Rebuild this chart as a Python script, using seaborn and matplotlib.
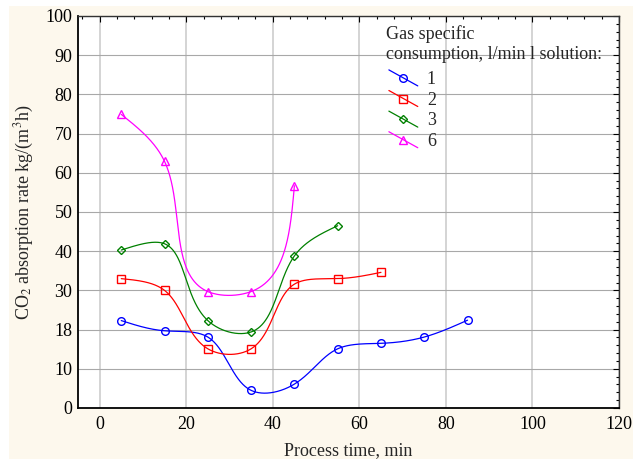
import numpy as np
import pandas as pd
import matplotlib
matplotlib.use('Agg')
import matplotlib.pyplot as plt
import seaborn as sns
from matplotlib.lines import Line2D
from matplotlib.patches import Rectangle
from matplotlib.legend_handler import HandlerLine2D
from matplotlib.ticker import FixedLocator, FixedFormatter, AutoMinorLocator

# values
time_1 = [5, 15, 25, 35, 45, 55, 65, 75, 85]
rate_1 = [22.3, 19.7, 18.1, 4.5, 6.1, 15.1, 16.5, 18.1, 22.4]
time_2 = [5, 15, 25, 35, 45, 55, 65]
rate_2 = [33.0, 30.0, 15.1, 15.1, 31.6, 33.0, 34.6]
time_3 = [5, 15, 25, 35, 45, 55]
rate_3 = [40.3, 41.9, 22.3, 19.4, 38.8, 46.5]
time_6 = [5, 15, 25, 35, 45]
rate_6 = [74.9, 62.9, 29.7, 29.7, 56.7]

series_labels = ['1', '2', '3', '6']
series_colors = ['#0000ff', '#ff0000', '#008000', '#ff00ff']
series_markers = ['o', 's', 'D', '^']
marker_sizes = [5.5, 6, 4, 6]

y_ticks = [0, 10, 20, 30, 40, 50, 60, 70, 80, 90, 100]
y_tick_labels = ['0', '10', '18', '30', '40', '50', '60', '70', '80', '90', '100']
x_ticks = [0, 20, 40, 60, 80, 100, 120]

sns.set_theme(style='white')
plt.rcParams['font.family'] = ['Liberation Serif', 'DejaVu Serif']
plt.rcParams['mathtext.fontset'] = 'stix'
plt.rcParams['axes.unicode_minus'] = False

SX, SY = 4.328, 3.923  # px per data unit, used only to shape the smooth curve


def natural_spline(t, v, tt):
    n = len(t)
    h = np.diff(t)
    A = np.zeros((n, n))
    r = np.zeros(n)
    A[0, 0] = A[-1, -1] = 1
    for i in range(1, n - 1):
        A[i, i - 1] = h[i - 1]
        A[i, i] = 2 * (h[i - 1] + h[i])
        A[i, i + 1] = h[i]
        r[i] = 3 * ((v[i + 1] - v[i]) / h[i] - (v[i] - v[i - 1]) / h[i - 1])
    c = np.linalg.solve(A, r)
    b = (v[1:] - v[:-1]) / h - h * (2 * c[:-1] + c[1:]) / 3
    d = (c[1:] - c[:-1]) / (3 * h)
    idx = np.clip(np.searchsorted(t, tt, side='right') - 1, 0, n - 2)
    dt = tt - t[idx]
    return v[idx] + b[idx] * dt + c[idx] * dt ** 2 + d[idx] * dt ** 3


def smooth_curve(xs, ys):
    # parametric spline over chord length, like the original software's smoothing
    xs = np.asarray(xs, float)
    ys = np.asarray(ys, float)
    chord = np.hypot(np.diff(xs) * SX, np.diff(ys) * SY)
    t = np.concatenate([[0], np.cumsum(chord)])
    tt = np.linspace(0, t[-1], 800)
    return natural_spline(t, xs, tt), natural_spline(t, ys, tt)


all_times = [time_1, time_2, time_3, time_6]
all_rates = [rate_1, rate_2, rate_3, rate_6]

curves = []
points = []
for lab, xs, ys in zip(series_labels, all_times, all_rates):
    cx, cy = smooth_curve(xs, ys)
    curves.append(pd.DataFrame({'time': cx, 'rate': cy, 'flow': lab}))
    points.append(pd.DataFrame({'time': xs, 'rate': ys, 'flow': lab}))
curve_df = pd.concat(curves, ignore_index=True)
point_df = pd.concat(points, ignore_index=True)

fig = plt.figure(figsize=(6.33, 4.62), dpi=100)
fig.patch.set_facecolor('white')
fig.patches.append(Rectangle((9 / 633, 3 / 462), 624 / 633, 453 / 462,
                             transform=fig.transFigure, facecolor='#fdf8ed',
                             edgecolor='none', zorder=-10))
ax = fig.add_axes([78 / 633, 54 / 462, 541 / 633, 392 / 462])
ax.set_facecolor('white')

palette = dict(zip(series_labels, series_colors))
sns.lineplot(data=curve_df, x='time', y='rate', hue='flow', palette=palette,
             sort=False, estimator=None, units='flow', linewidth=0.9,
             legend=False, ax=ax, zorder=3)

handles = []
for lab, col, mk, ms in zip(series_labels, series_colors, series_markers, marker_sizes):
    sub = point_df[point_df['flow'] == lab]
    ax.plot(sub['time'], sub['rate'], linestyle='none', marker=mk, markersize=ms,
            markerfacecolor='none', markeredgecolor=col, markeredgewidth=1.0, zorder=4)
    handles.append(Line2D([], [], color=col, linewidth=0.9, marker=mk, markersize=ms,
                          markerfacecolor='none', markeredgecolor=col, markeredgewidth=1.0))

ax.set_xlim(-5, 120)
ax.set_ylim(0, 100)
ax.xaxis.set_major_locator(FixedLocator(x_ticks))
ax.xaxis.set_minor_locator(AutoMinorLocator(5))
ax.yaxis.set_major_locator(FixedLocator(y_ticks))
ax.yaxis.set_major_formatter(FixedFormatter(y_tick_labels))
ax.yaxis.set_minor_locator(AutoMinorLocator(5))

ax.tick_params(which='both', direction='in', top=True, right=True, colors='black',
               labelsize=13, width=0.8)
ax.tick_params(which='major', length=4, pad=6)
ax.tick_params(which='minor', length=2)
ax.tick_params(axis='y', which='major', pad=4)

ax.grid(True, axis='x', which='major', color='#d4d4d4', linewidth=1.4)
ax.grid(True, axis='y', which='major', color='#a8a8a8', linewidth=0.8)
ax.set_axisbelow(True)
for side in ['left', 'bottom']:
    ax.spines[side].set_color('black')
    ax.spines[side].set_linewidth(1.3)
for side in ['top', 'right']:
    ax.spines[side].set_color('#333333')
    ax.spines[side].set_linewidth(1.0)

ax.set_xlabel('Process time, min', fontsize=13)
ax.set_ylabel('CO$_2$ absorption rate kg/(m$^3$h)', fontsize=13)
ax.xaxis.set_label_coords(0.5, -0.088)
ax.yaxis.set_label_coords(-0.078, 0.5)


class DiagonalHandler(HandlerLine2D):
    # legend key drawn as a short falling diagonal with the marker in the middle
    def create_artists(self, legend, orig_handle, xdescent, ydescent, width, height,
                       fontsize, trans):
        x0 = -xdescent + 2.2
        x1 = -xdescent + width + 2.2
        ym = -ydescent + height / 2
        dy = 8 / 1.389
        line = Line2D([x0, x1], [ym + dy, ym - dy])
        self.update_prop(line, orig_handle, legend)
        line.set_marker('None')
        mark = Line2D([(x0 + x1) / 2], [ym])
        self.update_prop(mark, orig_handle, legend)
        mark.set_linestyle('None')
        line.set_transform(trans)
        mark.set_transform(trans)
        return [line, mark]


leg = ax.legend(handles, series_labels,
                title='Gas specific\nconsumption, l/min l solution:',
                loc='upper left', bbox_to_anchor=(0.569, 0.976), frameon=False,
                fontsize=13, title_fontsize=13, alignment='left',
                handler_map={Line2D: DiagonalHandler()},
                handlelength=1.6, handletextpad=0.67, labelspacing=0.2,
                borderpad=0, borderaxespad=0)
leg._legend_box.sep = 6

fig.savefig('out.png', dpi=100, facecolor=fig.get_facecolor())
